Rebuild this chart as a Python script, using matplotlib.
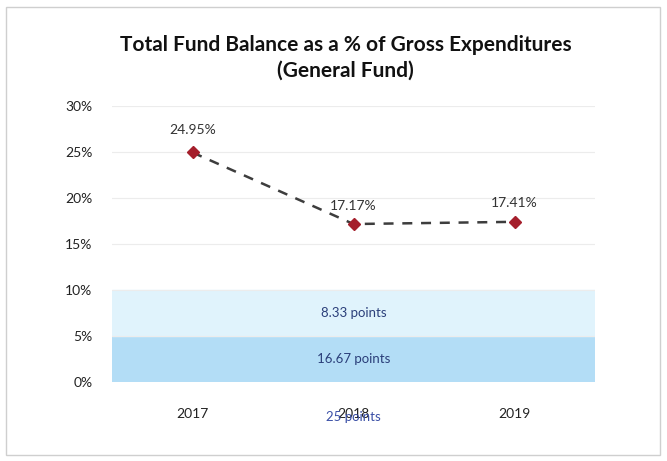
import numpy as np
import matplotlib.pyplot as plt
from matplotlib.patches import Rectangle

years = ['2017', '2018', '2019']
fund_pct = [24.95, 17.17, 17.41]
band_low = (0, 5, '16.67 points')
band_high = (5, 10, '8.33 points')
band_total = '25 points'
yticks = [0, 5, 10, 15, 20, 25, 30]

plt.rcParams['font.family'] = ['Lato', 'DejaVu Sans']

fig = plt.figure(figsize=(6.67, 4.61), dpi=100)
ax = fig.add_axes([112 / 667, 1 - 382 / 461, 483 / 667, 276 / 461])

x = np.arange(len(years))

# shaded target bands
ax.axhspan(band_low[0], band_low[1], color='#b3ddf6', zorder=0)
ax.axhspan(band_high[0], band_high[1], color='#e0f3fc', zorder=0)
ax.text(1, (band_low[0] + band_low[1]) / 2, band_low[2], ha='center', va='center',
        fontsize=9.5, color='#2b3f7a')
ax.text(1, (band_high[0] + band_high[1]) / 2, band_high[2], ha='center', va='center',
        fontsize=9.5, color='#2b3f7a')

for y in yticks[1:]:
    ax.axhline(y, color='#ececec', lw=0.8, zorder=0)

ax.plot(x, fund_pct, ls='--', color='#3d3d3d', lw=1.8, dashes=(4, 3.5),
        marker='D', markersize=6, markerfacecolor='#a51f2c',
        markeredgecolor='#a51f2c', zorder=3)

for xi, v in zip(x, fund_pct):
    ax.annotate(f'{v:.2f}%', (xi, v), xytext=(0, 12 if xi == 0 else 9),
                textcoords='offset points', ha='center', va='bottom',
                fontsize=10, color='#333333')

ax.set_xlim(-0.5, 2.5)
ax.set_ylim(0, 30)
ax.set_xticks(x)
ax.set_xticklabels(years, fontsize=10, color='#222222')
ax.set_yticks(yticks)
ax.set_yticklabels([f'{t}%' for t in yticks], fontsize=10, color='#222222')
ax.tick_params(axis='x', length=0, pad=19)
ax.tick_params(axis='y', length=0, pad=14)
for s in ax.spines.values():
    s.set_visible(False)

ax.text(1, -0.125, band_total, transform=ax.get_xaxis_transform(), ha='center',
        va='center', fontsize=9.5, color='#3a4fa6')

fig.text(0.518, 1 - 58 / 461, 'Total Fund Balance as a % of Gross Expenditures\n(General Fund)',
         ha='center', va='center', fontsize=15, fontweight='bold', color='#111111',
         linespacing=1.35)

# outer chart border
fig.patches.append(Rectangle((6 / 667, 6 / 461), 654 / 667, 448 / 461, transform=fig.transFigure,
                             fill=False, edgecolor='#cfcfcf', lw=1))

plt.savefig('out.png', dpi=100)
